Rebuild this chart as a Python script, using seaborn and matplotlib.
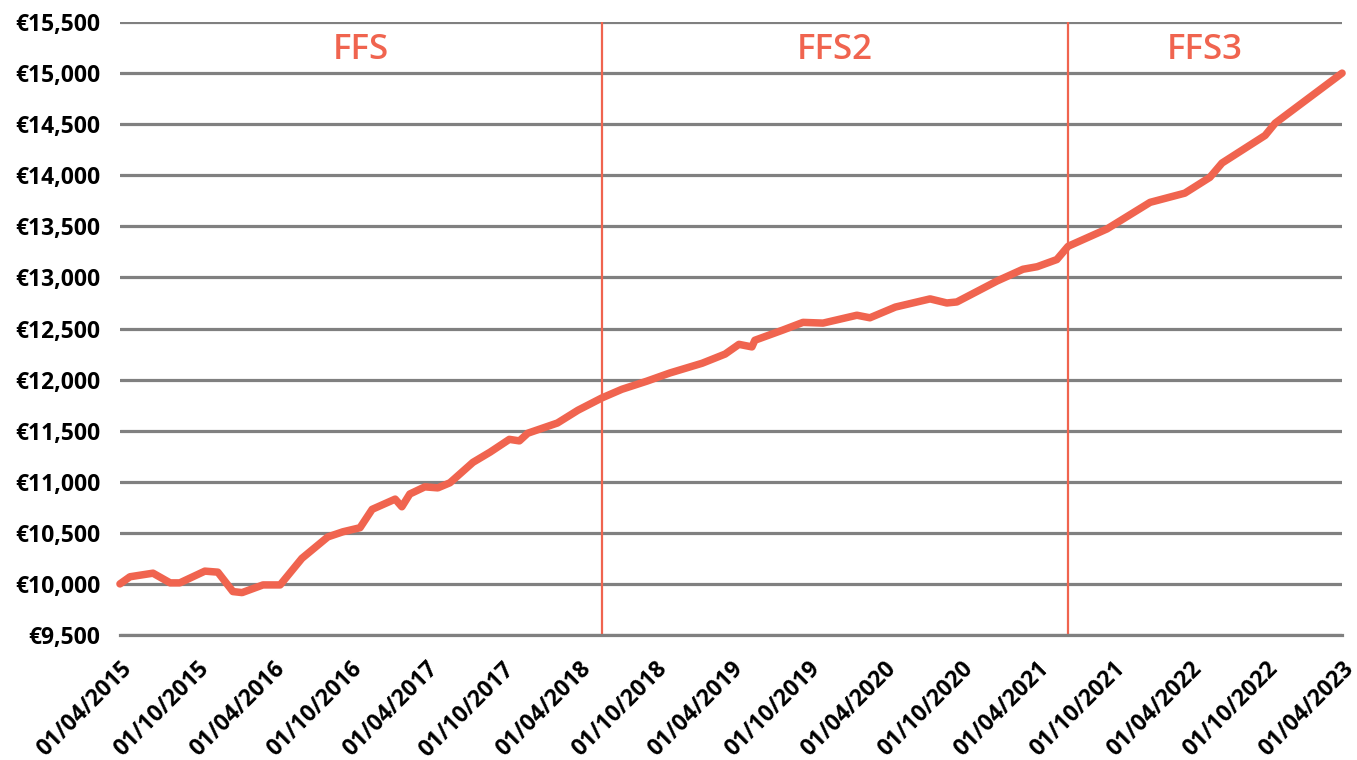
import matplotlib
matplotlib.use("Agg")
import matplotlib.pyplot as plt
import matplotlib.dates as mdates
import seaborn as sns
import pandas as pd

dates = ["2015-04-01", "2015-04-25", "2015-06-19", "2015-07-30", "2015-08-22",
         "2015-10-21", "2015-11-21", "2015-12-27", "2016-01-18", "2016-03-08",
         "2016-04-18", "2016-06-09", "2016-08-10", "2016-09-15", "2016-10-26",
         "2016-11-24", "2017-01-18", "2017-02-03", "2017-02-22", "2017-03-30",
         "2017-04-30", "2017-05-29", "2017-07-23", "2017-09-02", "2017-10-18",
         "2017-11-11", "2017-12-01", "2018-02-10", "2018-03-31", "2018-05-27",
         "2018-07-14", "2018-09-12", "2018-11-06", "2019-01-22", "2019-03-18",
         "2019-04-20", "2019-05-21", "2019-05-28", "2019-08-03", "2019-09-20",
         "2019-11-07", "2020-01-27", "2020-02-27", "2020-04-28", "2020-07-20",
         "2020-08-29", "2020-09-22", "2020-12-27", "2021-02-27", "2021-04-02",
         "2021-05-19", "2021-06-15", "2021-09-16", "2021-12-28", "2022-03-21",
         "2022-05-20", "2022-06-18", "2022-09-29", "2022-10-23", "2023-04-01"]
values = [10000, 10070, 10105, 10010, 10010,
          10125, 10115, 9925, 9915, 9990,
          9990, 10250, 10460, 10510, 10550,
          10730, 10830, 10755, 10880, 10950,
          10940, 10990, 11190, 11290, 11415,
          11400, 11475, 11575, 11700, 11820,
          11905, 11985, 12065, 12160, 12250,
          12345, 12320, 12385, 12485, 12560,
          12553, 12630, 12605, 12710, 12790,
          12750, 12760, 12965, 13080, 13105,
          13175, 13305, 13475, 13735, 13825,
          13980, 14120, 14390, 14510, 15000]

phase_names = ["FFS", "FFS2", "FFS3"]
phase_starts = ["2015-04-01", "2018-05-27", "2021-06-15"]
phase_end = "2023-04-01"

y_ticks = [9500, 10000, 10500, 11000, 11500, 12000, 12500, 13000, 13500,
           14000, 14500, 15000, 15500]
y_tick_labels = ["€9,500", "€10,000", "€10,500", "€11,000", "€11,500", "€12,000",
                 "€12,500", "€13,000", "€13,500", "€14,000", "€14,500", "€15,000",
                 "€15,500"]
x_ticks = ["2015-04-01", "2015-10-01", "2016-04-01", "2016-10-01", "2017-04-01",
           "2017-10-01", "2018-04-01", "2018-10-01", "2019-04-01", "2019-10-01",
           "2020-04-01", "2020-10-01", "2021-04-01", "2021-10-01", "2022-04-01",
           "2022-10-01", "2023-04-01"]

RED = "#F0644F"
GRID = "#808080"

sns.set_style("white")
plt.rcParams["font.family"] = ["Open Sans", "DejaVu Sans"]

df = pd.DataFrame({"date": pd.to_datetime(dates), "value": values})

fig = plt.figure(figsize=(13.57, 7.6), dpi=100)
ax = fig.add_axes([0.0884, 0.1645, 0.9006, 0.8065])

ax.set_ylim(9500, 15500)
ax.set_xlim(pd.Timestamp(x_ticks[0]), pd.Timestamp(x_ticks[-1]))
ax.set_yticks(y_ticks)
ax.set_yticklabels(y_tick_labels)
ax.yaxis.grid(True, color=GRID, linewidth=2.3)
ax.xaxis.grid(False)
ax.set_axisbelow(True)

starts = pd.to_datetime(phase_starts)
for s in starts[1:]:
    ax.axvline(s, color=RED, linewidth=1.6, zorder=2)

sns.lineplot(data=df, x="date", y="value", ax=ax, color=RED, linewidth=5.4,
             zorder=3, clip_on=False, solid_capstyle="round", solid_joinstyle="round")

ends = list(starts[1:]) + [pd.Timestamp(phase_end)]
for name, s, e in zip(phase_names, starts, ends):
    mid = s + (e - s) / 2
    ax.text(mid, 15230, name, color=RED, fontsize=25, fontweight="semibold",
            ha="center", va="center")

ax.set_xticks(pd.to_datetime(x_ticks))
ax.xaxis.set_major_formatter(mdates.DateFormatter("%d/%m/%Y"))

ax.tick_params(axis="x", length=8, width=2.3, color=GRID, pad=8,
               labelsize=16.5, labelcolor="black", direction="out")
ax.tick_params(axis="y", length=0, pad=14, labelsize=16.5, labelcolor="black")
for lab in ax.get_xticklabels():
    lab.set_rotation(45)
    lab.set_ha("right")
    lab.set_rotation_mode("anchor")
for lab in ax.get_xticklabels() + ax.get_yticklabels():
    lab.set_fontweight("bold")

for side in ["left", "right", "top"]:
    ax.spines[side].set_visible(False)
ax.spines["bottom"].set_color(GRID)
ax.spines["bottom"].set_linewidth(2.3)
ax.set_xlabel("")
ax.set_ylabel("")

fig.savefig("out.png", dpi=100)
